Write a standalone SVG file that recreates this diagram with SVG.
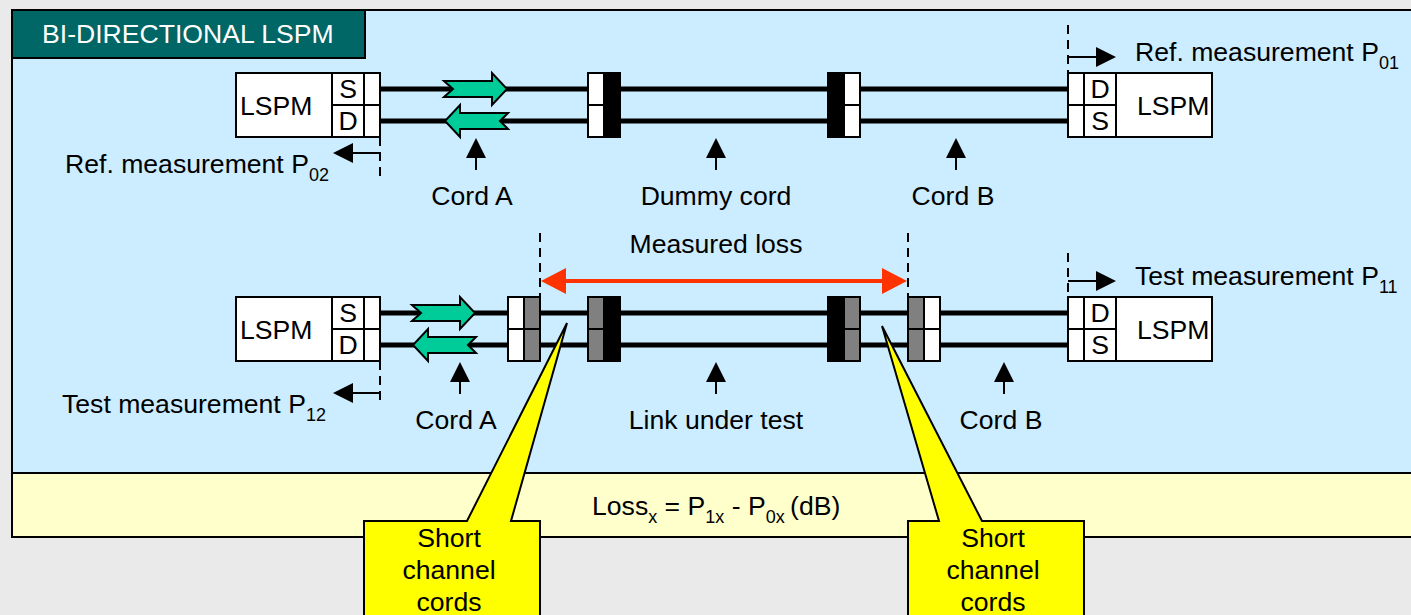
<svg xmlns="http://www.w3.org/2000/svg" width="1411" height="615" viewBox="0 0 1411 615">
<defs>
<style>
text{font-family:"Liberation Sans",Arial,sans-serif;font-size:26.6px;fill:#000}
.m{text-anchor:middle}
.sub{font-size:18px}
.box{fill:#fff;stroke:#000;stroke-width:2}
.g{fill:#808080;stroke:#000;stroke-width:2}
.k{fill:#000;stroke:#000;stroke-width:2}
.fib{stroke:#000;stroke-width:5;fill:none}
.thin{stroke:#000;stroke-width:2;fill:none}
.dash{stroke:#000;stroke-width:2;fill:none;stroke-dasharray:9 6}
.green{fill:#00CC99;stroke:#000;stroke-width:2;stroke-linejoin:miter}
.call{fill:#FFFF00;stroke:#000;stroke-width:2}
.head{fill:#000}
</style>
<g id="lspmL"><rect class="box" x="0" y="0" width="144" height="64"/><path class="thin" d="M96 0V64M128 0V64M96 32H144"/></g>
<g id="lspmR"><rect class="box" x="0" y="0" width="144" height="64"/><path class="thin" d="M16 0V64M48 0V64M0 32H48"/></g>
<path id="ar" class="green" d="M0 8H48V0L63 16L48 32V24H0L9 16Z"/>
<path id="al" class="green" d="M63 8H15V0L0 16L15 32V24H63L55 16Z"/>
<g id="up"><path class="thin" d="M0 32V20"/><path class="head" d="M0 0L10 20H-10Z"/></g>
</defs>
<rect width="1411" height="615" fill="#EAEAEA"/>
<g id="frame">
<rect x="12" y="10" width="1420" height="463" fill="#CCECFF" stroke="#000" stroke-width="2"/>
<rect x="12" y="473" width="1420" height="64" fill="#FFFFCC" stroke="#000" stroke-width="2"/>
</g>
<g id="title"><rect x="12" y="10" width="353" height="48" fill="#006666" stroke="#000" stroke-width="2"/>
<text x="42" y="43" style="fill:#fff">BI-DIRECTIONAL LSPM</text></g>
<g id="connectors">
<path class="fib" d="M380 89H588M620 89H828M860 89H1068M380 121H588M620 121H828M860 121H1068"/>
<path class="fib" d="M380 313H508M540 313H588M620 313H828M860 313H908M940 313H1068M380 345H508M540 345H588M620 345H828M860 345H908M940 345H1068"/>
<path class="dash" d="M1068 25V73M380 137V181M1068 253V297M380 361V405M540 233V297M908 233V297"/>
<path class="thin" d="M1068 57H1098M380 153H351M1068 281H1098M380 393H351"/>
<path class="head" d="M1096 47L1116 57L1096 67ZM353 143L333 153L353 163ZM1096 271L1116 281L1096 291ZM353 383L333 393L353 403Z"/>
<path stroke="#FF3300" stroke-width="4" fill="none" d="M560 281H888"/>
<path fill="#FF3300" d="M541 281L566 268V294ZM907 281L882 268V294Z"/>
<use href="#up" x="476" y="138"/><use href="#up" x="716" y="138"/><use href="#up" x="956" y="138"/>
<use href="#up" x="460" y="362"/><use href="#up" x="716" y="362"/><use href="#up" x="1004" y="362"/>
<use href="#ar" x="444" y="73"/><use href="#al" x="445" y="105"/>
<use href="#ar" x="412" y="297"/><use href="#al" x="413" y="329"/>
</g>
<g id="lspm-a1"><use href="#lspmL" x="236" y="73"/><text x="240" y="115">LSPM</text><text class="m" x="348" y="98">S</text><text class="m" x="348" y="130">D</text></g>
<g id="lspm-b1"><use href="#lspmR" x="1068" y="73"/><text x="1137" y="115">LSPM</text><text class="m" x="1100" y="98">D</text><text class="m" x="1100" y="130">S</text></g>
<g id="lspm-a2"><use href="#lspmL" x="236" y="297"/><text x="240" y="339">LSPM</text><text class="m" x="348" y="322">S</text><text class="m" x="348" y="354">D</text></g>
<g id="lspm-b2"><use href="#lspmR" x="1068" y="297"/><text x="1137" y="339">LSPM</text><text class="m" x="1100" y="322">D</text><text class="m" x="1100" y="354">S</text></g>
<g id="conn-top">
<rect class="box" x="588" y="73" width="16" height="32"/><rect class="box" x="588" y="105" width="16" height="32"/><rect class="k" x="604" y="73" width="16" height="64"/>
<rect class="k" x="828" y="73" width="16" height="64"/><rect class="box" x="844" y="73" width="16" height="32"/><rect class="box" x="844" y="105" width="16" height="32"/>
</g>
<g id="conn-bottom">
<rect class="box" x="508" y="297" width="16" height="32"/><rect class="box" x="508" y="329" width="16" height="32"/>
<rect class="g" x="524" y="297" width="16" height="32"/><rect class="g" x="524" y="329" width="16" height="32"/>
<rect class="g" x="588" y="297" width="16" height="32"/><rect class="g" x="588" y="329" width="16" height="32"/><rect class="k" x="604" y="297" width="16" height="64"/>
<rect class="k" x="828" y="297" width="16" height="64"/><rect class="g" x="844" y="297" width="16" height="32"/><rect class="g" x="844" y="329" width="16" height="32"/>
<rect class="g" x="908" y="297" width="16" height="32"/><rect class="g" x="908" y="329" width="16" height="32"/>
<rect class="box" x="924" y="297" width="16" height="32"/><rect class="box" x="924" y="329" width="16" height="32"/>
</g>
<g id="labels">
<text x="1135" y="61">Ref. measurement P<tspan class="sub" dy="8">01</tspan></text>
<text x="65" y="173">Ref. measurement P<tspan class="sub" dy="8">02</tspan></text>
<text x="1135" y="285">Test measurement P<tspan class="sub" dy="8">11</tspan></text>
<text x="62" y="413">Test measurement P<tspan class="sub" dy="8">12</tspan></text>
<text class="m" x="472" y="205">Cord A</text>
<text class="m" x="716" y="205">Dummy cord</text>
<text class="m" x="953" y="205">Cord B</text>
<text class="m" x="716" y="253">Measured loss</text>
<text class="m" x="456" y="429">Cord A</text>
<text class="m" x="716" y="429">Link under test</text>
<text class="m" x="1001" y="429">Cord B</text>
<text x="592" y="515">Loss<tspan class="sub" dy="8">x</tspan><tspan dy="-8"> = P</tspan><tspan class="sub" dy="8">1x</tspan><tspan dy="-8"> - P</tspan><tspan class="sub" dy="8">0x</tspan><tspan dy="-8" dx="-2"> (dB)</tspan></text>
</g>
<g id="callout-left">
<path class="call" d="M364 625V521H467L567 323L511 521H540V625Z"/>
<text class="m" x="449" y="547">Short</text><text class="m" x="449" y="579">channel</text><text class="m" x="449" y="611">cords</text>
</g>
<g id="callout-right">
<path class="call" d="M908 625V521H939L882 326L982 521H1084V625Z"/>
<text class="m" x="993" y="547">Short</text><text class="m" x="993" y="579">channel</text><text class="m" x="993" y="611">cords</text>
</g>
</svg>
